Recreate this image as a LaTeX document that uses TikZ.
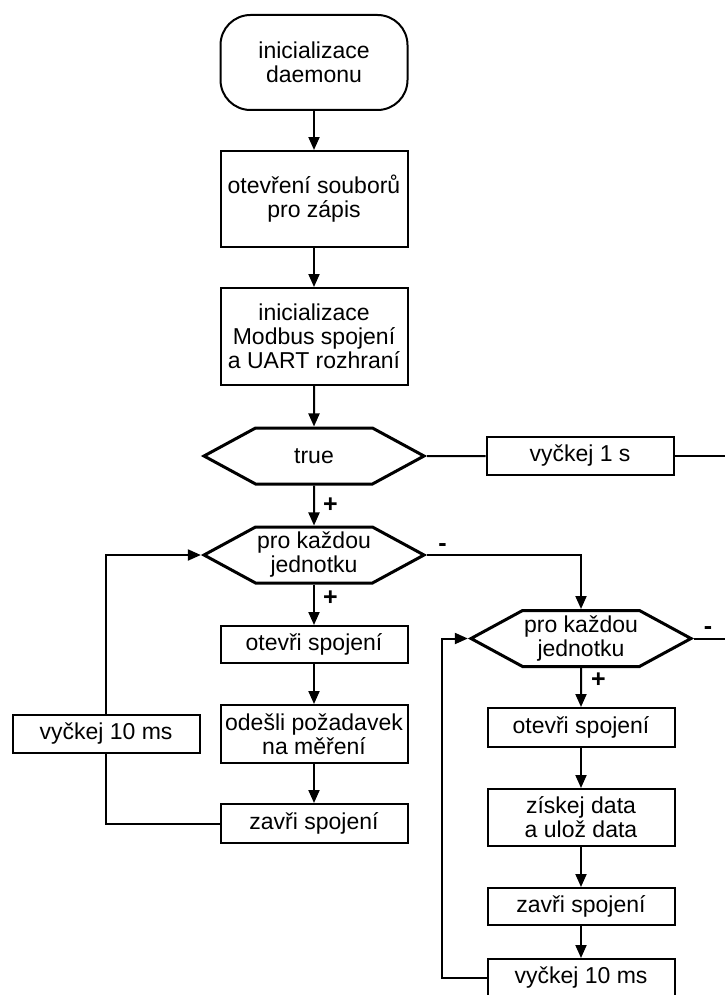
\documentclass[tikz,border=0pt]{standalone}
\usepackage{fontspec}
\setmainfont{Liberation Sans}
\usepackage{tikz}
\usetikzlibrary{arrows.meta,shapes.symbols}

\begin{document}
\begin{tikzpicture}[
  x=0.5pt, y=-0.5pt,
  font=\fontsize{11.5}{12}\selectfont,
  box/.style={draw, line width=1pt, align=center, inner sep=1pt, minimum width=93.5pt},
  start/.style={box, rounded corners=15pt, minimum height=47.5pt},
  hexa/.style={draw, signal, signal to=west and east, signal pointer angle=57, line width=1.5pt, align=center, inner sep=0pt, minimum width=110pt, minimum height=28pt},
  ar/.style={-{Triangle[length=6.5pt,width=5.5pt]}, line width=1pt},
  ln/.style={line width=1pt},
  lbl/.style={font=\fontsize{12.5}{12}\selectfont\bfseries, inner sep=1.5pt},
]
\useasboundingbox (0,0) rectangle (725,995);
% main column
\node[start] (init) at (314,62.5) {inicializace\\daemonu};
\node[box, minimum height=48pt] (files) at (314,199) {otevření souborů\\pro zápis};
\node[box, minimum height=48.5pt] (modbus) at (314,336.5) {inicializace\\Modbus spojení\\a UART rozhraní};
\node[hexa] (loop) at (314,456) {true};
\node[box, minimum height=19pt] (wait1) at (580,456) {vyčkej 1 s};
\coordinate (out1) at (725,456);
% first loop over units (request)
\node[hexa] (each1) at (314,555) {pro každou\\jednotku};
\node[box, minimum height=18.5pt] (open1) at (314,644.5) {otevři spojení};
\node[box, minimum height=29pt] (req) at (314,734) {odešli požadavek\\na měření};
\node[box, minimum height=19.5pt] (close1) at (314,823.5) {zavři spojení};
\node[box, minimum height=19pt] (pause1) at (106,734) {vyčkej 10 ms};
% second loop over units (read and store)
\node[hexa] (each2) at (581,638.5) {pro každou\\jednotku};
\node[box, minimum height=19.5pt] (open2) at (581,727.5) {otevři spojení};
\node[box, minimum height=28.5pt] (store) at (581,817.5) {získej data\\a ulož data};
\node[box, minimum height=18.5pt] (close2) at (581,906.5) {zavři spojení};
\node[box, minimum height=19pt] (pause2) at (581,978) {vyčkej 10 ms};
\coordinate (out2) at (725,638.5);

\draw[ar] (init) -- (files);
\draw[ar] (files) -- (modbus);
\draw[ar] (modbus) -- (loop);
\draw[ln] (loop) -- (wait1);
\draw[ln] (wait1) -- (out1);
\draw[ar] (loop) -- node[lbl, right, pos=0.5, xshift=2.5pt]{+} (each1);
\draw[ar] (each1) -- node[lbl, right, pos=0.33, xshift=2.5pt]{+} (open1);
\draw[ar] (open1) -- (req);
\draw[ar] (req) -- (close1);
\draw[ln] (close1.west) -| (pause1.south);
\draw[ar] (pause1.north) |- (each1.west);
\draw[ar] (each1.east) -| node[lbl, above, pos=0.05]{-} (each2.north);
\draw[ln] (each2.east) -- node[lbl, above, pos=0.45]{-} (out2);
\draw[ar] (each2) -- node[lbl, right, pos=0.32, xshift=3pt]{+} (open2);
\draw[ar] (open2) -- (store);
\draw[ar] (store) -- (close2);
\draw[ar] (close2) -- (pause2);
\draw[ar] (pause2.west) -- ++(-45,0) |- (each2.west);
\end{tikzpicture}
\end{document}
